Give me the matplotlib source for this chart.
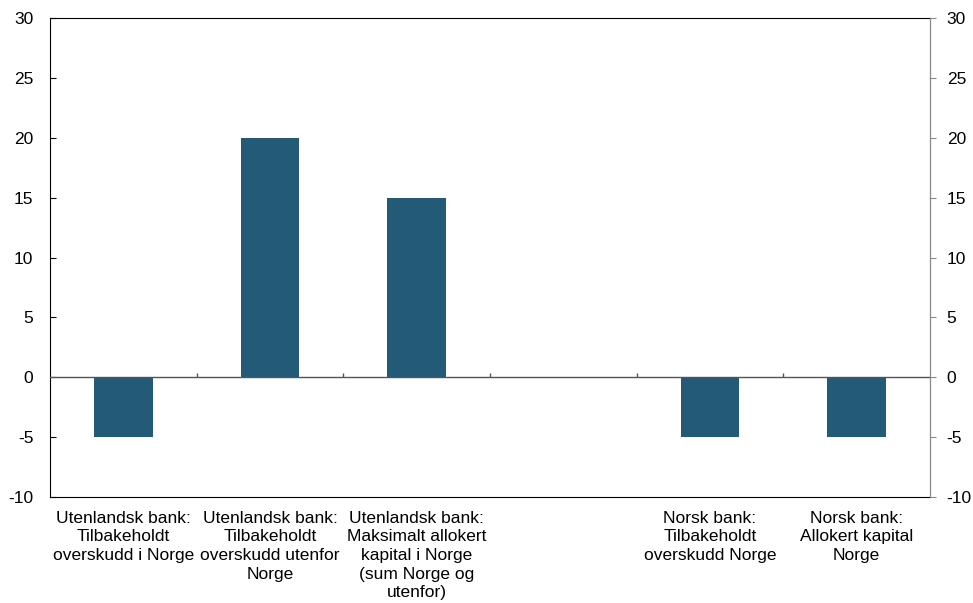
import matplotlib.pyplot as plt
import numpy as np

plt.rcParams['font.family'] = ['Liberation Sans', 'DejaVu Sans']
plt.rcParams['axes.unicode_minus'] = False

categories = [
    "Utenlandsk bank:\nTilbakeholdt\noverskudd i Norge",
    "Utenlandsk bank:\nTilbakeholdt\noverskudd utenfor\nNorge",
    "Utenlandsk bank:\nMaksimalt allokert\nkapital i Norge\n(sum Norge og\nutenfor)",
    "",
    "Norsk bank:\nTilbakeholdt\noverskudd Norge",
    "Norsk bank:\nAllokert kapital\nNorge",
]
values = [-5, 20, 15, np.nan, -5, -5]
yticks = [-10, -5, 0, 5, 10, 15, 20, 25, 30]

color = '#235a78'

fig = plt.figure(figsize=(9.73, 6.03), dpi=100)
ax = fig.add_axes([50 / 973, 1 - 497 / 603, 880 / 973, 479 / 603])

x = np.arange(len(categories))
ax.bar(x, values, width=0.4, color=color, zorder=2)
ax.axhline(0, color='#555555', lw=1, zorder=3)
bounds = x[:-1] + 0.5
ax.vlines(bounds, 0, 0.35, color='#555555', lw=1, zorder=3)

ax.set_xlim(-0.5, len(categories) - 0.5)
ax.set_ylim(-10, 30)
ax.set_yticks(yticks)
ax.set_xticks(x)
ax.set_xticklabels(categories, fontsize=12.5, linespacing=1.3)
ax.tick_params(axis='x', length=0, pad=10)
ax.tick_params(axis='y', direction='in', length=4, labelsize=12.5, color='black', pad=12)

for s in ['left', 'top', 'bottom']:
    ax.spines[s].set_color('black')
ax.spines['right'].set_color('#888888')

ax2 = ax.twinx()
ax2.set_ylim(-10, 30)
ax2.set_yticks(yticks)
ax2.tick_params(axis='y', direction='out', length=4, labelsize=12.5, color='#888888', pad=8)
for s in ['left', 'top', 'bottom']:
    ax2.spines[s].set_visible(False)
ax2.spines['right'].set_color('#888888')

fig.savefig('out.png', dpi=100)
